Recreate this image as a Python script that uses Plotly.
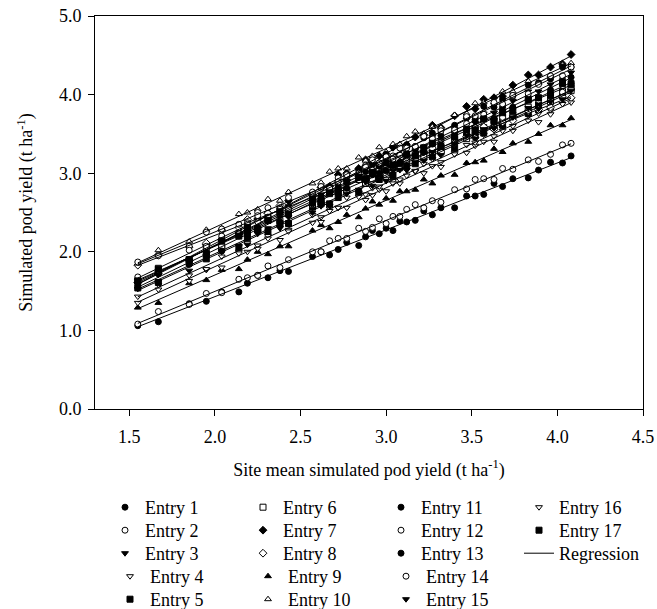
import numpy as np
import plotly.graph_objects as go

site_mean = [1.55, 1.67, 1.85, 1.95, 2.04, 2.14, 2.19, 2.25, 2.31, 2.38, 2.43, 2.57, 2.62, 2.67,
             2.72, 2.77, 2.84, 2.88, 2.92, 2.96, 3.00, 3.04, 3.08, 3.12, 3.17, 3.22, 3.27, 3.32,
             3.40, 3.47, 3.52, 3.57, 3.63, 3.68, 3.74, 3.83, 3.89, 3.96, 4.03, 4.08]

entry_1 = [1.06, 1.11, 1.34, 1.37, 1.49, 1.49, 1.60, 1.70, 1.67, 1.76, 1.75, 1.94, 2.00, 1.96, 2.03, 2.12, 2.08, 2.19, 2.27, 2.23, 2.30, 2.27, 2.39, 2.38, 2.40, 2.52, 2.47, 2.56, 2.56, 2.71, 2.71, 2.73, 2.87, 2.83, 2.93, 2.94, 3.04, 3.14, 3.13, 3.22]
entry_2 = [1.08, 1.24, 1.33, 1.47, 1.48, 1.65, 1.67, 1.70, 1.82, 1.80, 1.90, 2.00, 2.00, 2.14, 2.17, 2.17, 2.30, 2.26, 2.31, 2.42, 2.36, 2.45, 2.45, 2.54, 2.60, 2.56, 2.65, 2.63, 2.79, 2.80, 2.92, 2.93, 2.92, 3.06, 3.05, 3.17, 3.15, 3.24, 3.36, 3.38]
entry_3 = [1.63, 1.73, 1.88, 2.07, 2.12, 2.20, 2.22, 2.37, 2.44, 2.44, 2.58, 2.65, 2.73, 2.74, 2.88, 2.90, 2.95, 3.06, 3.01, 3.10, 3.07, 3.20, 3.22, 3.22, 3.32, 3.34, 3.46, 3.42, 3.56, 3.68, 3.64, 3.76, 3.77, 3.79, 3.92, 4.04, 4.04, 4.13, 4.16, 4.28]
entry_4 = [1.43, 1.58, 1.70, 1.77, 1.94, 2.00, 2.11, 2.08, 2.20, 2.31, 2.28, 2.47, 2.44, 2.55, 2.56, 2.69, 2.75, 2.73, 2.81, 2.79, 2.93, 2.90, 2.92, 3.04, 3.02, 3.12, 3.18, 3.14, 3.26, 3.36, 3.35, 3.49, 3.47, 3.57, 3.60, 3.73, 3.76, 3.80, 3.94, 3.94]
entry_5 = [1.54, 1.61, 1.86, 1.91, 2.04, 2.06, 2.18, 2.28, 2.26, 2.36, 2.36, 2.57, 2.64, 2.61, 2.69, 2.78, 2.75, 2.87, 2.96, 2.92, 3.00, 2.97, 3.10, 3.10, 3.12, 3.25, 3.21, 3.31, 3.32, 3.48, 3.49, 3.51, 3.66, 3.63, 3.74, 3.76, 3.87, 3.98, 3.98, 4.08]
entry_6 = [1.63, 1.79, 1.90, 2.04, 2.06, 2.23, 2.25, 2.29, 2.41, 2.39, 2.50, 2.60, 2.61, 2.74, 2.78, 2.78, 2.92, 2.87, 2.93, 3.04, 2.98, 3.08, 3.07, 3.17, 3.23, 3.20, 3.28, 3.27, 3.43, 3.44, 3.57, 3.58, 3.58, 3.71, 3.71, 3.84, 3.81, 3.91, 4.04, 4.05]
entry_7 = [1.61, 1.72, 1.89, 2.09, 2.15, 2.24, 2.27, 2.42, 2.49, 2.50, 2.65, 2.73, 2.82, 2.83, 2.98, 3.00, 3.06, 3.17, 3.13, 3.22, 3.20, 3.33, 3.35, 3.36, 3.46, 3.49, 3.61, 3.58, 3.73, 3.85, 3.82, 3.94, 3.96, 3.98, 4.12, 4.25, 4.25, 4.35, 4.39, 4.51]
entry_8 = [1.83, 1.96, 2.06, 2.11, 2.27, 2.31, 2.41, 2.38, 2.49, 2.59, 2.55, 2.72, 2.68, 2.78, 2.78, 2.91, 2.96, 2.93, 3.00, 2.98, 3.11, 3.08, 3.09, 3.20, 3.18, 3.27, 3.32, 3.27, 3.38, 3.47, 3.45, 3.59, 3.56, 3.65, 3.67, 3.79, 3.81, 3.84, 3.97, 3.96]
entry_9 = [1.29, 1.35, 1.60, 1.64, 1.77, 1.78, 1.90, 2.00, 1.97, 2.07, 2.07, 2.27, 2.34, 2.30, 2.38, 2.47, 2.44, 2.55, 2.64, 2.60, 2.68, 2.65, 2.77, 2.77, 2.79, 2.92, 2.87, 2.97, 2.98, 3.13, 3.14, 3.16, 3.31, 3.27, 3.38, 3.40, 3.50, 3.61, 3.61, 3.70]
entry_10 = [1.85, 2.02, 2.13, 2.28, 2.30, 2.48, 2.50, 2.54, 2.67, 2.65, 2.76, 2.87, 2.88, 3.02, 3.06, 3.06, 3.20, 3.16, 3.22, 3.33, 3.27, 3.37, 3.37, 3.47, 3.53, 3.50, 3.59, 3.58, 3.74, 3.76, 3.89, 3.90, 3.90, 4.04, 4.04, 4.17, 4.15, 4.25, 4.38, 4.40]
entry_11 = [1.59, 1.75, 1.89, 1.97, 2.15, 2.22, 2.33, 2.31, 2.44, 2.55, 2.53, 2.73, 2.71, 2.82, 2.84, 2.97, 3.04, 3.02, 3.11, 3.09, 3.24, 3.21, 3.23, 3.36, 3.34, 3.45, 3.51, 3.48, 3.61, 3.71, 3.71, 3.85, 3.84, 3.94, 3.98, 4.12, 4.15, 4.20, 4.35, 4.35]
entry_12 = [1.87, 1.95, 2.07, 2.25, 2.29, 2.35, 2.37, 2.50, 2.56, 2.56, 2.69, 2.74, 2.81, 2.81, 2.94, 2.96, 3.00, 3.10, 3.04, 3.13, 3.10, 3.22, 3.23, 3.22, 3.32, 3.33, 3.44, 3.39, 3.53, 3.63, 3.58, 3.70, 3.70, 3.71, 3.83, 3.94, 3.93, 4.01, 4.03, 4.14]
entry_13 = [1.54, 1.72, 1.84, 1.99, 2.01, 2.20, 2.22, 2.27, 2.40, 2.38, 2.49, 2.61, 2.62, 2.77, 2.81, 2.81, 2.95, 2.92, 2.98, 3.09, 3.03, 3.13, 3.14, 3.24, 3.30, 3.27, 3.37, 3.36, 3.52, 3.55, 3.68, 3.69, 3.69, 3.84, 3.84, 3.97, 3.96, 4.06, 4.19, 4.22]
entry_14 = [1.68, 1.76, 2.02, 2.07, 2.20, 2.23, 2.35, 2.46, 2.44, 2.54, 2.54, 2.76, 2.83, 2.81, 2.89, 2.98, 2.95, 3.08, 3.17, 3.13, 3.21, 3.18, 3.32, 3.32, 3.34, 3.47, 3.44, 3.54, 3.55, 3.72, 3.73, 3.75, 3.90, 3.88, 3.99, 4.01, 4.13, 4.24, 4.24, 4.35]
entry_15 = [1.53, 1.62, 1.76, 1.95, 2.00, 2.07, 2.09, 2.23, 2.30, 2.30, 2.44, 2.50, 2.58, 2.58, 2.72, 2.74, 2.79, 2.89, 2.84, 2.93, 2.90, 3.03, 3.04, 3.04, 3.14, 3.16, 3.27, 3.23, 3.37, 3.48, 3.44, 3.56, 3.57, 3.58, 3.71, 3.83, 3.82, 3.91, 3.94, 4.05]
entry_16 = [1.35, 1.52, 1.63, 1.78, 1.80, 1.98, 2.00, 2.04, 2.17, 2.15, 2.26, 2.37, 2.38, 2.52, 2.56, 2.56, 2.70, 2.66, 2.72, 2.83, 2.77, 2.87, 2.87, 2.97, 3.03, 3.00, 3.09, 3.08, 3.24, 3.26, 3.39, 3.40, 3.40, 3.54, 3.54, 3.67, 3.65, 3.75, 3.88, 3.90]
entry_17 = [1.63, 1.78, 1.90, 1.97, 2.14, 2.20, 2.31, 2.28, 2.40, 2.51, 2.48, 2.67, 2.64, 2.75, 2.76, 2.89, 2.95, 2.93, 3.01, 2.99, 3.13, 3.10, 3.12, 3.24, 3.22, 3.32, 3.38, 3.34, 3.46, 3.56, 3.55, 3.69, 3.67, 3.77, 3.80, 3.93, 3.96, 4.00, 4.14, 4.14]

entry_names = ["Entry %d" % i for i in range(1, 18)]
entry_values = [entry_1, entry_2, entry_3, entry_4, entry_5, entry_6, entry_7, entry_8, entry_9,
                entry_10, entry_11, entry_12, entry_13, entry_14, entry_15, entry_16, entry_17]
# (symbol, filled)
entry_styles = [("circle", True), ("circle", False), ("triangle-down", True), ("triangle-down", False),
                ("square", True), ("square", False), ("diamond", True), ("diamond", False),
                ("triangle-up", True), ("triangle-up", False), ("circle", True), ("circle", False),
                ("circle", True), ("circle", False), ("triangle-down", True), ("triangle-down", False),
                ("square", True)]

x_ticks = [1.5, 2.0, 2.5, 3.0, 3.5, 4.0, 4.5]
y_ticks = [0.0, 1.0, 2.0, 3.0, 4.0, 5.0]

FONT = "Liberation Serif, Times New Roman, serif"
# one horizontal legend per legend row (entries 1-5 fill column 1, 6-10 column 2, ...)
row_ids = ["legend", "legend2", "legend3", "legend4", "legend5"]

fig = go.Figure()

xs = np.array(site_mean)
for i, (name, vals, (sym, filled)) in enumerate(zip(entry_names, entry_values, entry_styles)):
    fig.add_trace(go.Scatter(
        x=site_mean, y=vals, mode="markers", name=name,
        legend=row_ids[i % 5], legendrank=100 + i,
        marker=dict(symbol=sym, size=6, color="black" if filled else "white",
                    line=dict(color="black", width=1)),
    ))

# regression lines fitted to the data
for i, vals in enumerate(entry_values):
    b, a = np.polyfit(xs, np.array(vals), 1)
    x0, x1 = xs.min(), xs.max()
    fig.add_trace(go.Scatter(
        x=[x0, x1], y=[a + b * x0, a + b * x1], mode="lines",
        line=dict(color="black", width=1),
        name="Regression", legend="legend3", legendrank=200, showlegend=(i == 0),
    ))

axis_common = dict(showline=True, linecolor="black", linewidth=1, mirror=True,
                   ticks="outside", ticklen=6, tickcolor="black", showgrid=False,
                   zeroline=False, automargin=False, ticklabeloverflow="allow",
                   tickfont=dict(size=18, color="black", family=FONT))

fig.update_xaxes(range=[1.3, 4.5], tickvals=x_ticks, ticktext=["%.1f" % v for v in x_ticks],
                 ticklabelstandoff=5,
                 title=dict(text="Site mean simulated pod yield (t ha<sup>-1</sup>)",
                            font=dict(size=18, color="black", family=FONT), standoff=17),
                 **axis_common)
fig.update_yaxes(range=[0, 5], tickvals=y_ticks, ticktext=["%.1f" % v for v in y_ticks],
                 ticklabelstandoff=3,
                 title=dict(text="Simulated pod yield (t ha<sup>-1</sup>)",
                            font=dict(size=18, color="black", family=FONT), standoff=21),
                 **axis_common)

ML, MR, MT, MB = 95, 14, 16, 200
plot_w = 657 - ML - MR

row_tops_px = [489, 512, 535, 558, 581]
leg_common = dict(orientation="h", xref="paper", x=(110 - ML) / plot_w, xanchor="left",
                  yref="container", yanchor="top",
                  entrywidth=93, entrywidthmode="pixels",
                  font=dict(size=18, family=FONT, color="black"),
                  bgcolor="rgba(0,0,0,0)", borderwidth=0,
                  traceorder="normal", itemclick=False)
legends = {}
for rid, top in zip(row_ids, row_tops_px):
    legends[rid] = dict(y=1 - top / 609.0, **leg_common)

fig.update_layout(
    width=657, height=609,
    margin=dict(l=ML, r=MR, t=MT, b=MB),
    plot_bgcolor="white", paper_bgcolor="white",
    font=dict(family=FONT, size=18, color="black"),
    showlegend=True,
    hovermode=False,
    **legends,
)

# remove the default page margin so the figure fills the window exactly
fig.write_html("out.html",
               config={"displayModeBar": False, "staticPlot": False},
               post_script="document.body.style.margin='0px';document.body.style.overflow='hidden';")
